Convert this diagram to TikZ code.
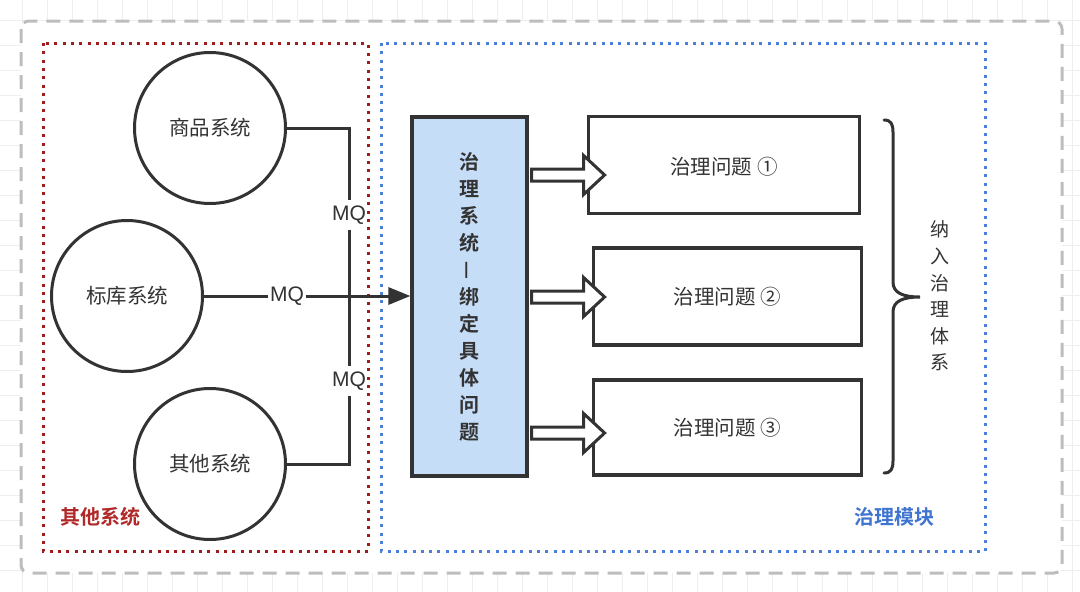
\documentclass[tikz,border=0pt]{standalone}
\usepackage{fontspec}
\setmainfont{Noto Sans CJK SC}[BoldFont={Noto Sans CJK SC Bold}]
\newfontfamily\latinfont{Liberation Sans}
\usepackage{graphicx}
\usetikzlibrary{arrows.meta,calc}
\definecolor{ink}{HTML}{333333}
\definecolor{gridc}{HTML}{EEEEEE}
\definecolor{framec}{HTML}{BDBDBD}
\definecolor{redc}{HTML}{A01C1C}
\definecolor{redt}{HTML}{B02828}
\definecolor{bluec}{HTML}{4A7FDB}
\definecolor{bluet}{HTML}{3F74D0}
\definecolor{corefill}{HTML}{C6DDF8}
\tikzset{
  gridline/.style={draw=gridc, line width=1pt},
  frame/.style={draw=framec, line width=3pt, dash pattern=on 14pt off 9pt, rounded corners=8pt, fill=white},
  redbox/.style={draw=redc, line width=3pt, dash pattern=on 3pt off 5.3pt},
  bluebox/.style={draw=bluec, line width=3pt, dash pattern=on 3pt off 5.3pt},
  sysnode/.style={circle, draw=ink, line width=3pt, minimum size=151pt, inner sep=0pt, text=ink, font=\fontsize{20.5}{24}\selectfont},
  conn/.style={draw=ink, line width=3pt},
  mqlabel/.style={fill=white, text=ink, inner xsep=1.5pt, inner ysep=5pt, font=\latinfont\fontsize{21}{24}\selectfont},
  corebox/.style={draw=ink, fill=corefill, line width=3.2pt, minimum width=115pt, minimum height=359pt, inner sep=0pt},
  probbox/.style={draw=ink, line width=3.2pt, minimum width=270pt, minimum height=96pt, inner sep=0pt, text=ink, font=\fontsize{20.5}{24}\selectfont},
  harr/.style={draw=ink, fill=white, line width=3pt, line join=miter},
  brace/.style={draw=ink, line width=3pt, line cap=round},
}
\newcommand\holarrow[1]{%
  \draw[harr] (#1) ++(0,-6) -- ++(52,0) -- ++(0,-13.5) -- ++(21,19.5) -- ++(-21,19.5) -- ++(0,-13.5) -- ++(-52,0) -- cycle;}
\begin{document}
\begin{tikzpicture}[x=1pt,y=-1pt]
\useasboundingbox (0,0) rectangle (1080,592);
% background grid
\foreach \i in {0,...,43} \draw[gridline] ({22+25*\i},0) -- ({22+25*\i},592);
\foreach \j in {0,...,23} \draw[gridline] (0,{20+25*\j}) -- (1080,{20+25*\j});
% outer frame
\draw[frame] (21,21) rectangle (1062,573);
% containers
\draw[redbox] (43,43) rectangle (368,551);
\draw[bluebox] (381,43) rectangle (985,551);
\node[text=redt, font=\fontsize{20}{24}\selectfont\bfseries] (lblother) at (100,517) {其他系统};
\node[text=bluet, font=\fontsize{20}{24}\selectfont\bfseries] (lblgov) at (894,517) {治理模块};
% systems
\node[sysnode] (sp) at (210,128) {商品系统};
\node[sysnode] (bk) at (127,296) {标库系统};
\node[sysnode] (qt) at (210,464) {其他系统};
% core box
\node[corebox] (core) at (469.5,296.5) {};
\node[text=ink, align=center, font=\fontsize{20}{27}\selectfont\bfseries] (coretext) at (469.5,297)
  {治\\理\\系\\统\\\raisebox{-0.1em}{\rotatebox{90}{—}}\\绑\\定\\具\\体\\问\\题};
% MQ labels and connectors
\node[mqlabel] (mq1) at (349,215) {MQ};
\node[mqlabel] (mq2) at (349,381) {MQ};
\node[mqlabel] (mq0) at (287,296) {MQ};
\draw[conn] (sp.east) -| (mq1.north);
\draw[conn] (mq1.south) -- (mq2.north);
\draw[conn] (mq2.south) |- (qt.east);
\draw[conn] (bk.east) -- (mq0.west);
\draw[conn, -{Triangle[length=22pt, width=17pt]}] (mq0.east) -- (core.west |- mq0.east);
% problem boxes
\node[probbox, minimum width=271pt, minimum height=97pt] (p1) at (724,165) {};
\node[text=ink, font=\fontsize{20.5}{24}\selectfont] (p1t) at (724,167) {治理问题 ①};
\node[probbox, minimum width=268pt, minimum height=97pt] (p2) at (727.5,296.5) {治理问题 ②};
\node[probbox, minimum width=268pt, minimum height=95pt] (p3) at (727.5,427.5) {治理问题 ③};
% hollow arrows
\coordinate (h1) at ($(core.east)+(3,0)$);
\holarrow{h1 |- 0,175}
\holarrow{h1 |- 0,297}
\holarrow{h1 |- 0,433}
% brace
\draw[brace] (884,120) .. controls (891,120) and (893,124) .. (893,132)
  -- (893,282) .. controls (893,293) and (903,297) .. (920,297)
  .. controls (903,297) and (893,301) .. (893,312)
  -- (893,461) .. controls (893,469) and (891,473) .. (884,473);
\node[text=ink, align=center, font=\fontsize{19}{26.6}\selectfont] (brtext) at (940,296) {纳\\入\\治\\理\\体\\系};
\end{tikzpicture}
\end{document}
